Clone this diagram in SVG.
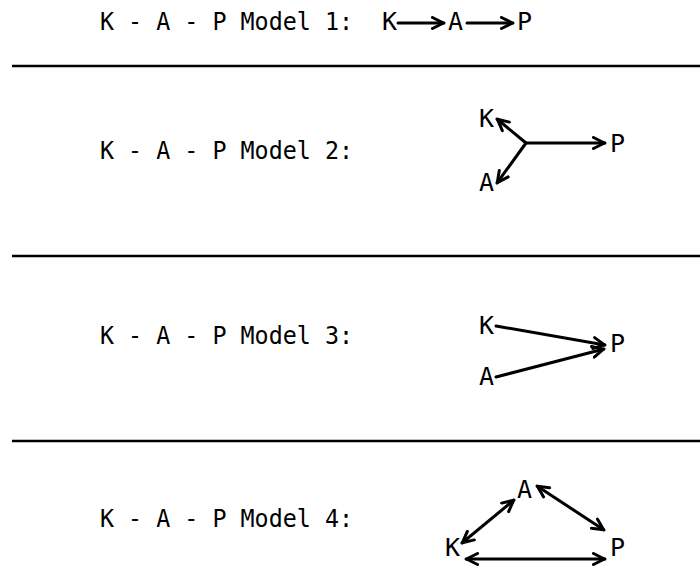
<svg xmlns="http://www.w3.org/2000/svg" width="700" height="572" viewBox="0 0 700 572">
<defs>
<style>
.t{font-family:"DejaVu Sans Mono","Liberation Mono",monospace;font-size:25px;fill:#000}
.c{fill:none;stroke:#000;stroke-width:3;stroke-linecap:round;stroke-linejoin:round}
.rule{stroke:#000;stroke-width:2.4}
</style>
<marker id="ah" viewBox="0 0 14 14" markerWidth="14" markerHeight="14" refX="13" refY="7" orient="auto-start-reverse" markerUnits="userSpaceOnUse">
<path d="M1.5,1.5 L12.5,7 L1.5,12.5" fill="none" stroke="#000" stroke-width="3" stroke-linecap="round" stroke-linejoin="round"/>
</marker>
</defs>
<rect width="700" height="572" fill="#fff"/>
<g id="rules">
<line class="rule" x1="12" y1="66" x2="700" y2="66"/>
<line class="rule" x1="12" y1="256" x2="700" y2="256"/>
<line class="rule" x1="12" y1="441" x2="700" y2="441"/>
</g>
<g id="label1"><text class="t" x="100" y="30" textLength="253" lengthAdjust="spacingAndGlyphs">K - A - P Model 1:</text></g>
<g id="label2"><text class="t" x="100" y="159" textLength="253" lengthAdjust="spacingAndGlyphs">K - A - P Model 2:</text></g>
<g id="label3"><text class="t" x="100" y="344" textLength="253" lengthAdjust="spacingAndGlyphs">K - A - P Model 3:</text></g>
<g id="label4"><text class="t" x="100" y="527" textLength="253" lengthAdjust="spacingAndGlyphs">K - A - P Model 4:</text></g>
<g id="m1-K"><text class="t" x="382" y="30">K</text></g>
<g id="m1-A"><text class="t" x="448" y="30">A</text></g>
<g id="m1-P"><text class="t" x="517" y="30">P</text></g>
<g id="m2-K"><text class="t" x="479" y="127">K</text></g>
<g id="m2-A"><text class="t" x="479" y="191">A</text></g>
<g id="m2-P"><text class="t" x="610" y="152">P</text></g>
<g id="m3-K"><text class="t" x="479" y="334">K</text></g>
<g id="m3-A"><text class="t" x="479" y="385">A</text></g>
<g id="m3-P"><text class="t" x="610" y="352">P</text></g>
<g id="m4-A"><text class="t" x="517" y="498">A</text></g>
<g id="m4-K"><text class="t" x="445" y="556">K</text></g>
<g id="m4-P"><text class="t" x="610" y="556">P</text></g>
<g id="connectors">
<line class="c" x1="398" y1="23" x2="444" y2="23" marker-end="url(#ah)"/>
<line class="c" x1="467" y1="23" x2="513" y2="23" marker-end="url(#ah)"/>
<line class="c" x1="526" y1="143" x2="497" y2="119" marker-end="url(#ah)"/>
<line class="c" x1="526" y1="143" x2="497" y2="183" marker-end="url(#ah)"/>
<line class="c" x1="526" y1="143" x2="605" y2="143" marker-end="url(#ah)"/>
<line class="c" x1="496" y1="326" x2="605" y2="345" marker-end="url(#ah)"/>
<line class="c" x1="496" y1="377" x2="604" y2="349" marker-end="url(#ah)"/>
<line class="c" x1="462" y1="543" x2="514" y2="500" marker-start="url(#ah)" marker-end="url(#ah)"/>
<line class="c" x1="537" y1="486" x2="604" y2="530" marker-start="url(#ah)" marker-end="url(#ah)"/>
<line class="c" x1="466" y1="559" x2="605" y2="559" marker-start="url(#ah)" marker-end="url(#ah)"/>
</g>
</svg>
